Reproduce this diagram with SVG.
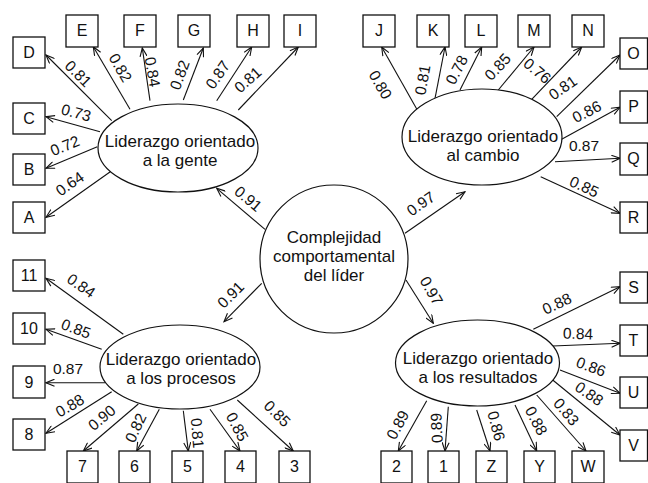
<svg xmlns="http://www.w3.org/2000/svg" width="648" height="483" viewBox="0 0 648 483">
<defs>
<marker id="arr" markerWidth="10" markerHeight="8" refX="9" refY="4" orient="auto" markerUnits="userSpaceOnUse">
<path d="M0.5,0.5 L9,4 L0.5,7.5" fill="none" stroke="#111" stroke-width="1.1"/>
</marker>
<style>
.box{fill:#fff;stroke:#111;stroke-width:1.3}
.ell{fill:#fff;stroke:#111;stroke-width:1.2}
.bt{font-family:"Liberation Sans",Arial,sans-serif;font-size:16px;fill:#111;text-anchor:middle}
.et{font-family:"Liberation Sans",Arial,sans-serif;font-size:17px;fill:#111;text-anchor:middle}
.lb{font-family:"Liberation Sans",Arial,sans-serif;font-size:15.5px;fill:#111;text-anchor:middle}
.cn line{stroke:#111;stroke-width:1.1;marker-end:url(#arr)}
</style>
</defs>
<rect width="648" height="483" fill="#fff"/>

<g id="connectors" class="cn">
<line x1="111.7" y1="120.7" x2="46" y2="55"/>
<line x1="130" y1="109.3" x2="93.3" y2="46.7"/>
<line x1="150" y1="100.7" x2="142.3" y2="48"/>
<line x1="183.3" y1="100" x2="203.3" y2="48"/>
<line x1="216.7" y1="100.7" x2="251.7" y2="47"/>
<line x1="238.3" y1="110" x2="298.3" y2="47"/>
<line x1="100" y1="131.7" x2="46" y2="116.7"/>
<line x1="97.3" y1="146.7" x2="46" y2="168.3"/>
<line x1="111.7" y1="170.7" x2="46" y2="217.3"/>
<line x1="265" y1="229.3" x2="216.7" y2="188.3"/>
<line x1="417.3" y1="110" x2="381.7" y2="47"/>
<line x1="435" y1="98.3" x2="445" y2="47"/>
<line x1="460" y1="90" x2="481.7" y2="47"/>
<line x1="498.3" y1="90" x2="534" y2="47"/>
<line x1="531.7" y1="99.3" x2="581.7" y2="47"/>
<line x1="556.7" y1="116.7" x2="620" y2="55"/>
<line x1="561.7" y1="139.3" x2="620" y2="107.3"/>
<line x1="555" y1="161.7" x2="620" y2="158.3"/>
<line x1="540.7" y1="176.7" x2="620" y2="213.3"/>
<line x1="405" y1="233.3" x2="465" y2="191.7"/>
<line x1="123.3" y1="334.3" x2="46" y2="278.3"/>
<line x1="101.7" y1="349.3" x2="46" y2="329.3"/>
<line x1="105" y1="382.7" x2="46" y2="382.7"/>
<line x1="111.7" y1="391.7" x2="46" y2="433.3"/>
<line x1="138.3" y1="404" x2="83.3" y2="451"/>
<line x1="159.3" y1="409.3" x2="136.7" y2="451"/>
<line x1="183.3" y1="410.7" x2="188.3" y2="451"/>
<line x1="210" y1="409.3" x2="240" y2="451"/>
<line x1="237.3" y1="400" x2="293.3" y2="451"/>
<line x1="261.7" y1="283.3" x2="224" y2="321.7"/>
<line x1="533.3" y1="329.3" x2="620" y2="286.7"/>
<line x1="552.7" y1="346" x2="620" y2="343.3"/>
<line x1="560" y1="370" x2="620" y2="393.3"/>
<line x1="552.7" y1="380" x2="620" y2="435"/>
<line x1="426.7" y1="400.7" x2="398.3" y2="451"/>
<line x1="448.3" y1="406.7" x2="445" y2="451"/>
<line x1="476.7" y1="410" x2="490" y2="451"/>
<line x1="515" y1="405" x2="536.7" y2="451"/>
<line x1="536.7" y1="395" x2="586" y2="451"/>
<line x1="406" y1="280" x2="433.3" y2="323.3"/>
</g>

<g id="labels">
<text class="lb" transform="translate(78,74) rotate(45)" dy="5">0.81</text>
<text class="lb" transform="translate(120,68) rotate(60)" dy="5">0.82</text>
<text class="lb" transform="translate(152,72) rotate(80)" dy="5">0.84</text>
<text class="lb" transform="translate(180,75) rotate(-70)" dy="5">0.82</text>
<text class="lb" transform="translate(218,75) rotate(-55)" dy="5">0.87</text>
<text class="lb" transform="translate(248,80) rotate(-42)" dy="5">0.81</text>
<text class="lb" transform="translate(76,113) rotate(15)" dy="5">0.73</text>
<text class="lb" transform="translate(65,146) rotate(-22)" dy="5">0.72</text>
<text class="lb" transform="translate(70,184) rotate(-35)" dy="5">0.64</text>
<text class="lb" transform="translate(248,199) rotate(40)" dy="5">0.91</text>

<text class="lb" transform="translate(380,85) rotate(60)" dy="5">0.80</text>
<text class="lb" transform="translate(423,80) rotate(-80)" dy="5">0.81</text>
<text class="lb" transform="translate(457,70) rotate(-63)" dy="5">0.78</text>
<text class="lb" transform="translate(498,67) rotate(-47)" dy="5">0.85</text>
<text class="lb" transform="translate(537,71) rotate(40)" dy="5">0.76</text>
<text class="lb" transform="translate(563,88) rotate(-35)" dy="5">0.81</text>
<text class="lb" transform="translate(587,112) rotate(-27)" dy="5">0.86</text>
<text class="lb" transform="translate(584,146)" dy="5">0.87</text>
<text class="lb" transform="translate(584,187) rotate(25)" dy="5">0.85</text>
<text class="lb" transform="translate(421,204) rotate(-35)" dy="5">0.97</text>

<text class="lb" transform="translate(81,286) rotate(35)" dy="5">0.84</text>
<text class="lb" transform="translate(76,329) rotate(20)" dy="5">0.85</text>
<text class="lb" transform="translate(68,369)" dy="5">0.87</text>
<text class="lb" transform="translate(70,406) rotate(-30)" dy="5">0.88</text>
<text class="lb" transform="translate(102,418) rotate(-40)" dy="5">0.90</text>
<text class="lb" transform="translate(136,428) rotate(-65)" dy="5">0.82</text>
<text class="lb" transform="translate(197,433) rotate(85)" dy="5">0.81</text>
<text class="lb" transform="translate(237,427) rotate(62)" dy="5">0.85</text>
<text class="lb" transform="translate(277,414) rotate(45)" dy="5">0.85</text>
<text class="lb" transform="translate(231,295) rotate(-45)" dy="5">0.91</text>

<text class="lb" transform="translate(557,304) rotate(-25)" dy="5">0.88</text>
<text class="lb" transform="translate(578,334) rotate(2)" dy="5">0.84</text>
<text class="lb" transform="translate(591,367) rotate(20)" dy="5">0.86</text>
<text class="lb" transform="translate(589,394) rotate(35)" dy="5">0.88</text>
<text class="lb" transform="translate(398,425) rotate(-62)" dy="5">0.89</text>
<text class="lb" transform="translate(437,428) rotate(-93)" dy="5">0.89</text>
<text class="lb" transform="translate(496,426) rotate(75)" dy="5">0.86</text>
<text class="lb" transform="translate(536,421) rotate(62)" dy="5">0.88</text>
<text class="lb" transform="translate(566,412) rotate(50)" dy="5">0.83</text>
<text class="lb" transform="translate(431,291) rotate(60)" dy="5">0.97</text>
</g>

<g id="n-center"><circle class="ell" cx="334" cy="259" r="74"/>
<text class="et" x="334" y="243">Complejidad</text>
<text class="et" x="334" y="262">comportamental</text>
<text class="et" x="334" y="281">del líder</text></g>

<g id="n-gente"><ellipse class="ell" cx="178" cy="148" rx="80" ry="44"/>
<text class="et" x="180" y="147">Liderazgo orientado</text>
<text class="et" x="180" y="166">a la gente</text></g>

<g id="n-cambio"><ellipse class="ell" cx="482" cy="137" rx="80" ry="48"/>
<text class="et" x="483" y="142">Liderazgo orientado</text>
<text class="et" x="483" y="161">al cambio</text></g>

<g id="n-procesos"><ellipse class="ell" cx="180" cy="367" rx="80" ry="42"/>
<text class="et" x="181" y="365">Liderazgo orientado</text>
<text class="et" x="181" y="384">a los procesos</text></g>

<g id="n-resultados"><ellipse class="ell" cx="477.5" cy="363" rx="82" ry="43"/>
<text class="et" x="478" y="364">Liderazgo orientado</text>
<text class="et" x="478" y="383">a los resultados</text></g>

<g id="n-D"><rect class="box" x="13" y="37" width="32" height="31"/><text class="bt" x="29" y="58">D</text></g>
<g id="n-C"><rect class="box" x="13" y="103" width="32" height="31"/><text class="bt" x="29" y="124">C</text></g>
<g id="n-B"><rect class="box" x="13" y="154" width="32" height="31"/><text class="bt" x="29" y="175">B</text></g>
<g id="n-A"><rect class="box" x="13" y="202" width="32" height="31"/><text class="bt" x="29" y="223">A</text></g>
<g id="n-E"><rect class="box" x="66" y="15" width="32" height="32"/><text class="bt" x="82" y="36">E</text></g>
<g id="n-F"><rect class="box" x="124" y="15" width="32" height="32"/><text class="bt" x="140" y="36">F</text></g>
<g id="n-G"><rect class="box" x="178" y="15" width="32" height="32"/><text class="bt" x="194" y="36">G</text></g>
<g id="n-H"><rect class="box" x="237" y="15" width="32" height="32"/><text class="bt" x="253" y="36">H</text></g>
<g id="n-I"><rect class="box" x="284" y="15" width="32" height="32"/><text class="bt" x="300" y="36">I</text></g>
<g id="n-J"><rect class="box" x="363" y="15" width="32" height="32"/><text class="bt" x="379" y="36">J</text></g>
<g id="n-K"><rect class="box" x="417" y="15" width="32" height="32"/><text class="bt" x="433" y="36">K</text></g>
<g id="n-L"><rect class="box" x="465" y="15" width="32" height="32"/><text class="bt" x="481" y="36">L</text></g>
<g id="n-M"><rect class="box" x="518" y="15" width="32" height="32"/><text class="bt" x="534" y="36">M</text></g>
<g id="n-N"><rect class="box" x="572" y="15" width="32" height="32"/><text class="bt" x="588" y="36">N</text></g>
<g id="n-O"><rect class="box" x="620" y="38" width="27.5" height="31"/><text class="bt" x="633.5" y="59">O</text></g>
<g id="n-P"><rect class="box" x="620" y="91" width="27.5" height="32"/><text class="bt" x="633.5" y="112">P</text></g>
<g id="n-Q"><rect class="box" x="620" y="143" width="27.5" height="32"/><text class="bt" x="633.5" y="164">Q</text></g>
<g id="n-R"><rect class="box" x="620" y="202" width="27.5" height="31"/><text class="bt" x="633.5" y="223">R</text></g>
<g id="n-S"><rect class="box" x="620" y="272" width="27.5" height="31"/><text class="bt" x="633.5" y="293">S</text></g>
<g id="n-T"><rect class="box" x="620" y="325" width="27.5" height="31"/><text class="bt" x="633.5" y="346">T</text></g>
<g id="n-U"><rect class="box" x="620" y="377" width="27.5" height="31"/><text class="bt" x="633.5" y="398">U</text></g>
<g id="n-V"><rect class="box" x="620" y="430" width="27.5" height="31"/><text class="bt" x="633.5" y="451">V</text></g>
<g id="n-11"><rect class="box" x="13" y="260" width="32" height="31"/><text class="bt" x="29" y="281">11</text></g>
<g id="n-10"><rect class="box" x="13" y="313" width="32" height="31"/><text class="bt" x="29" y="334">10</text></g>
<g id="n-9"><rect class="box" x="13" y="366" width="32" height="32"/><text class="bt" x="29" y="388">9</text></g>
<g id="n-8"><rect class="box" x="13" y="419" width="32" height="31"/><text class="bt" x="29" y="440">8</text></g>
<g id="n-7"><rect class="box" x="67" y="451" width="31" height="32"/><text class="bt" x="82.5" y="472">7</text></g>
<g id="n-6"><rect class="box" x="119" y="451" width="31" height="32"/><text class="bt" x="134.5" y="472">6</text></g>
<g id="n-5"><rect class="box" x="172" y="451" width="31" height="32"/><text class="bt" x="187.5" y="472">5</text></g>
<g id="n-4"><rect class="box" x="225" y="451" width="31" height="32"/><text class="bt" x="240.5" y="472">4</text></g>
<g id="n-3"><rect class="box" x="279" y="451" width="31" height="32"/><text class="bt" x="294.5" y="472">3</text></g>
<g id="n-2"><rect class="box" x="381" y="451" width="31" height="32"/><text class="bt" x="396.5" y="472">2</text></g>
<g id="n-1"><rect class="box" x="428" y="451" width="31" height="32"/><text class="bt" x="443.5" y="472">1</text></g>
<g id="n-Z"><rect class="box" x="476" y="451" width="31" height="32"/><text class="bt" x="491.5" y="472">Z</text></g>
<g id="n-Y"><rect class="box" x="524" y="451" width="31" height="32"/><text class="bt" x="539.5" y="472">Y</text></g>
<g id="n-W"><rect class="box" x="572" y="451" width="32" height="32"/><text class="bt" x="588" y="472">W</text></g>
</svg>
